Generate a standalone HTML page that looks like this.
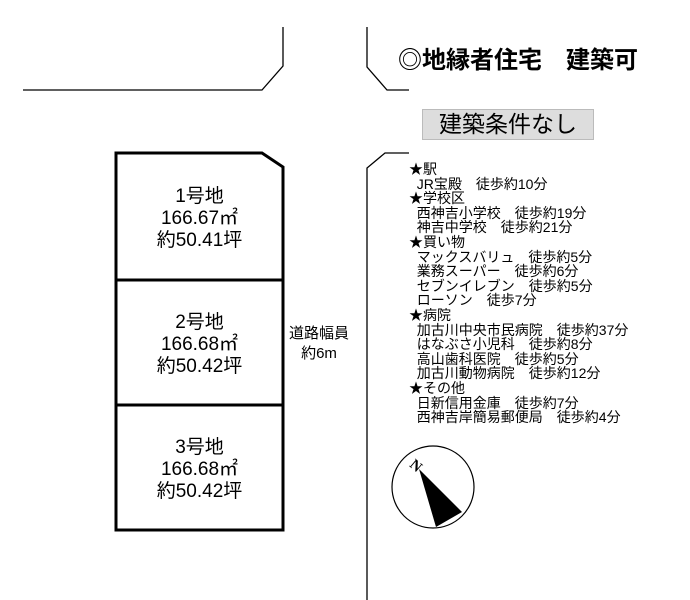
<!DOCTYPE html>
<html><head><meta charset="utf-8"><style>
body{margin:0;width:690px;height:600px;background:#fff;position:relative;overflow:hidden;font-family:"Liberation Sans","Noto Sans CJK JP",sans-serif;color:#000}
.t{position:absolute;white-space:nowrap}
.lot{position:absolute;left:116px;width:167px;text-align:center;font-size:19px;line-height:22px}
.list{position:absolute;left:409px;top:162px;font-size:14px;line-height:14.6px;white-space:pre}
</style></head><body>
<svg width="690" height="600" style="position:absolute;left:0;top:0">
<g fill="none" stroke="#000" stroke-width="1.3">
<polyline points="23,90 262,90 283,66 283,27"/>
<polyline points="367,27 367,67 387,90 409,90"/>
<polyline points="367,600 367,168 385,153 409,153"/>
</g>
<g fill="none" stroke="#000" stroke-width="3">
<polygon points="116,153 262,153 283,167 283,530 116,530"/>
<line x1="116" y1="280" x2="283" y2="280"/>
<line x1="116" y1="405" x2="283" y2="405"/>
</g>
<circle cx="433" cy="487" r="41" fill="none" stroke="#000" stroke-width="1.2"/>
<polygon points="419,469 462,512 436,527" fill="#000"/>
<text x="412" y="467" font-family="Liberation Serif,serif" font-size="15" font-weight="bold" transform="rotate(40 412 462)">N</text>
</svg>
<div class="t" style="left:398px;top:40px;font-size:24px;font-weight:bold">◎地縁者住宅　建築可</div>
<div class="t" style="left:422px;top:109px;width:170px;height:29px;background:#ddd;border:1px solid #bbb;font-size:23px;line-height:29px;text-align:center">建築条件なし</div>
<div class="lot" style="top:186px">1号地<br>166.67㎡<br>約50.41坪</div>
<div class="lot" style="top:312px">2号地<br>166.68㎡<br>約50.42坪</div>
<div class="lot" style="top:437px">3号地<br>166.68㎡<br>約50.42坪</div>
<div class="t" style="left:289px;top:324px;font-size:15px;line-height:20px;text-align:center">道路幅員<br>約6m</div>
<div class="list">★駅
  JR宝殿　徒歩約10分
★学校区
  西神吉小学校　徒歩約19分
  神吉中学校　徒歩約21分
★買い物
  マックスバリュ　徒歩約5分
  業務スーパー　徒歩約6分
  セブンイレブン　徒歩約5分
  ローソン　徒歩7分
★病院
  加古川中央市民病院　徒歩約37分
  はなぶさ小児科　徒歩約8分
  高山歯科医院　徒歩約5分
  加古川動物病院　徒歩約12分
★その他
  日新信用金庫　徒歩約7分
  西神吉岸簡易郵便局　徒歩約4分</div>
</body></html>
